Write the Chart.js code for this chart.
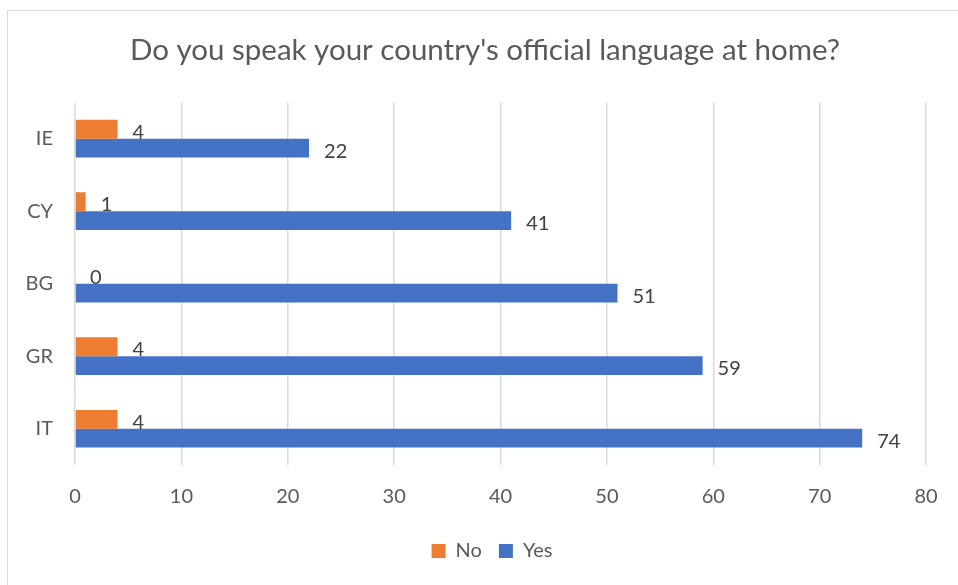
<!DOCTYPE html>
<html>
<head>
<meta charset="utf-8">
<script src="https://cdn.jsdelivr.net/npm/chart.js@4/dist/chart.umd.min.js"></script>
<style>
  html, body { margin: 0; padding: 0; background: #ffffff; }
  #wrap { position: relative; width: 958px; height: 585px; }
</style>
</head>
<body>
<div id="wrap"><canvas id="chart" width="958" height="585"></canvas></div>
<script>
// Countries, top to bottom
const countries = ['IE', 'CY', 'BG', 'GR', 'IT'];
// Answers per country
const noValues = [4, 1, 0, 4, 4];
const yesValues = [22, 41, 51, 59, 74];
// Horizontal axis range
const axisMin = 0;
const axisMax = 80;
const axisStep = 10;

const FONT = 'Lato, "Open Sans", sans-serif';
const TEXT_GREY = '#595959';
const GRID_GREY = '#d9d9d9';

// Light frame along the top and left edges, on a white page
const framePlugin = {
  id: 'frame',
  beforeDraw(chart) {
    const ctx = chart.ctx;
    ctx.save();
    ctx.fillStyle = '#ffffff';
    ctx.fillRect(0, 0, chart.width, chart.height);
    ctx.strokeStyle = GRID_GREY;
    ctx.lineWidth = 1;
    ctx.beginPath();
    ctx.moveTo(7.5, chart.height);
    ctx.lineTo(7.5, 10.5);
    ctx.lineTo(chart.width, 10.5);
    ctx.stroke();
    ctx.restore();
  }
};

// Centre the title and legend over the whole page rather than the padded box
const centreBoxes = {
  id: 'centreBoxes',
  afterLayout(chart) {
    if (chart.titleBlock) {
      chart.titleBlock.left += 22;
      chart.titleBlock.right += 22;
    }
    if (chart.legend) {
      chart.legend.left += 29;
      chart.legend.right += 29;
    }
  }
};

// Value labels just past the end of each bar
const valueLabels = {
  id: 'valueLabels',
  afterDatasetsDraw(chart) {
    const ctx = chart.ctx;
    ctx.save();
    ctx.font = '20px ' + FONT;
    ctx.fillStyle = '#404040';
    ctx.textAlign = 'left';
    ctx.textBaseline = 'middle';
    chart.data.datasets.forEach((ds, di) => {
      const meta = chart.getDatasetMeta(di);
      meta.data.forEach((bar, i) => {
        ctx.fillText(String(ds.data[i]), bar.x + 15, bar.y + 3);
      });
    });
    ctx.restore();
  }
};

new Chart(document.getElementById('chart'), {
  type: 'bar',
  data: {
    labels: countries,
    datasets: [
      { label: 'No', data: noValues, backgroundColor: '#ED7D31' },
      { label: 'Yes', data: yesValues, backgroundColor: '#4472C4' }
    ]
  },
  options: {
    indexAxis: 'y',
    responsive: false,
    animation: false,
    devicePixelRatio: 1,
    layout: { padding: { left: 0, right: 32, top: 0, bottom: 14 } },
    datasets: { bar: { categoryPercentage: 0.52, barPercentage: 1.0 } },
    scales: {
      x: {
        min: axisMin,
        max: axisMax,
        ticks: {
          stepSize: axisStep,
          color: TEXT_GREY,
          font: { family: FONT, size: 20 },
          padding: 20
        },
        grid: { color: GRID_GREY, lineWidth: 1.5, drawTicks: false },
        border: { display: false },
        afterFit(scale) {
          const legendH = scale.chart.legend ? scale.chart.legend.height : 0;
          scale.height = 585 - 465 - legendH - 14;
        }
      },
      y: {
        ticks: {
          color: TEXT_GREY,
          font: { family: FONT, size: 20 },
          padding: 22
        },
        grid: { display: false, drawTicks: false },
        border: { display: false },
        afterFit(scale) { scale.width = 75; }
      }
    },
    plugins: {
      title: {
        display: true,
        text: "Do you speak your country's official language at home?",
        color: TEXT_GREY,
        font: { family: FONT, size: 29.5, weight: 'normal' },
        padding: { top: 33, bottom: 34 }
      },
      legend: {
        position: 'bottom',
        labels: {
          color: TEXT_GREY,
          font: { family: FONT, size: 20 },
          boxWidth: 14,
          boxHeight: 14,
          padding: 17
        }
      },
      tooltip: { enabled: false }
    }
  },
  plugins: [framePlugin, centreBoxes, valueLabels]
});
</script>
</body>
</html>
